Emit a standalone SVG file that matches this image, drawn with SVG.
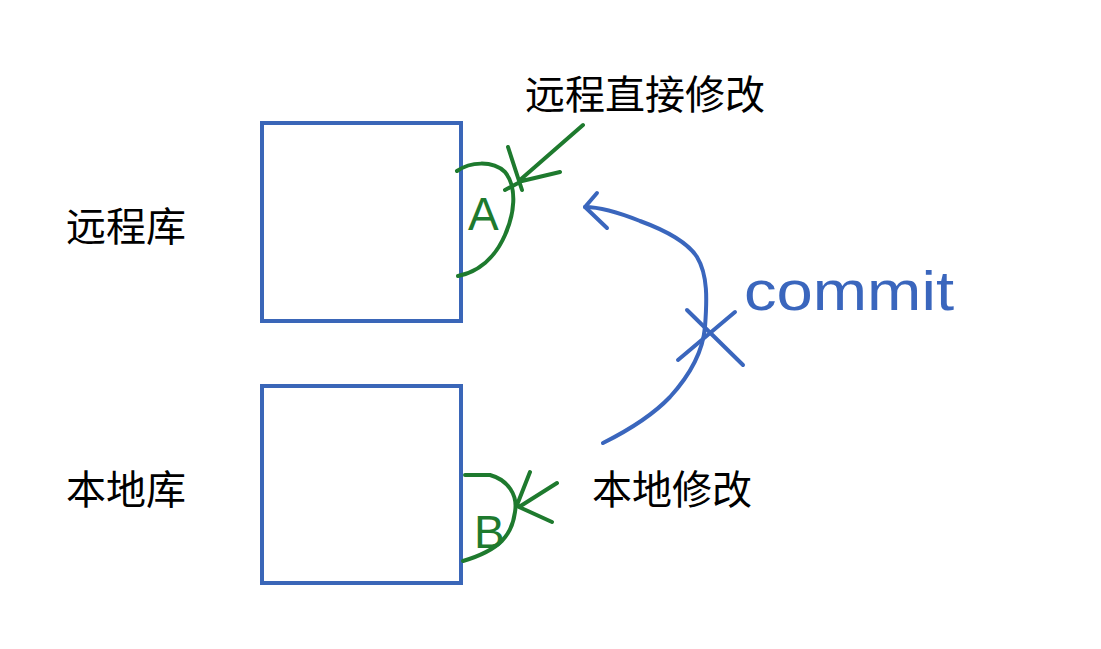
<svg xmlns="http://www.w3.org/2000/svg" width="1101" height="649" viewBox="0 0 1101 649">
<style>
.box{fill:none;stroke:#3a66b8;stroke-width:4}
.lbl{font-family:"Noto Sans CJK SC","Liberation Sans",sans-serif;font-size:40px;fill:#000}
.g{fill:none;stroke:#1e7a2e;stroke-width:4;stroke-linecap:round;stroke-linejoin:round}
.b{fill:none;stroke:#3a66bd;stroke-width:4;stroke-linecap:round;stroke-linejoin:round}
.gt{font-family:"Liberation Sans",sans-serif;fill:#1e7a2e}
.bt{font-family:"Liberation Sans",sans-serif;fill:#3a66bd}
</style>
<rect width="1101" height="649" fill="#fff"/>
<g id="remote">
<rect class="box" x="262" y="123" width="199" height="198"/>
<text class="lbl" x="66" y="241">远程库</text>
</g>
<g id="local">
<rect class="box" x="262" y="386" width="199" height="197"/>
<text class="lbl" x="66" y="504">本地库</text>
</g>
<g id="remote-edit">
<text class="lbl" x="525" y="109">远程直接修改</text>
<path class="g" d="M457 171 C470 162 492 160 505 172 C518 188 514 215 505 235 C495 258 478 272 458 276"/>
<text class="gt" x="468" y="230" font-size="46">A</text>
</g>
<g id="local-edit">
<text class="lbl" x="592" y="504">本地修改</text>
<path class="g" d="M465 475 L490 475 C508 480 518 495 515 512 C512 535 500 550 463 561"/>
<text class="gt" x="474" y="548" font-size="46">B</text>
</g>
<g id="commit-label">
<text class="bt" x="744" y="310" font-size="56" textLength="210" lengthAdjust="spacingAndGlyphs">commit</text>
</g>
<g id="connectors">
<path class="g" d="M583 125 L520 180 M560 172 L522 181 M508 147 L522 190 M505 190 L520 182"/>
<path class="g" d="M530 472 L517 505 M557 483 L519 507 M552 522 L519 507"/>
<path class="b" d="M603 443 C625 432 650 418 670 397 C690 375 703 350 705 327 C707 300 708 275 697 257 C688 243 670 232 640 221 C620 213 600 207 585 207"/>
<path class="b" d="M597 193 L585 207 L607 228"/>
<path class="b" d="M687 310 L743 365 M735 312 L678 360"/>
</g>
</svg>
